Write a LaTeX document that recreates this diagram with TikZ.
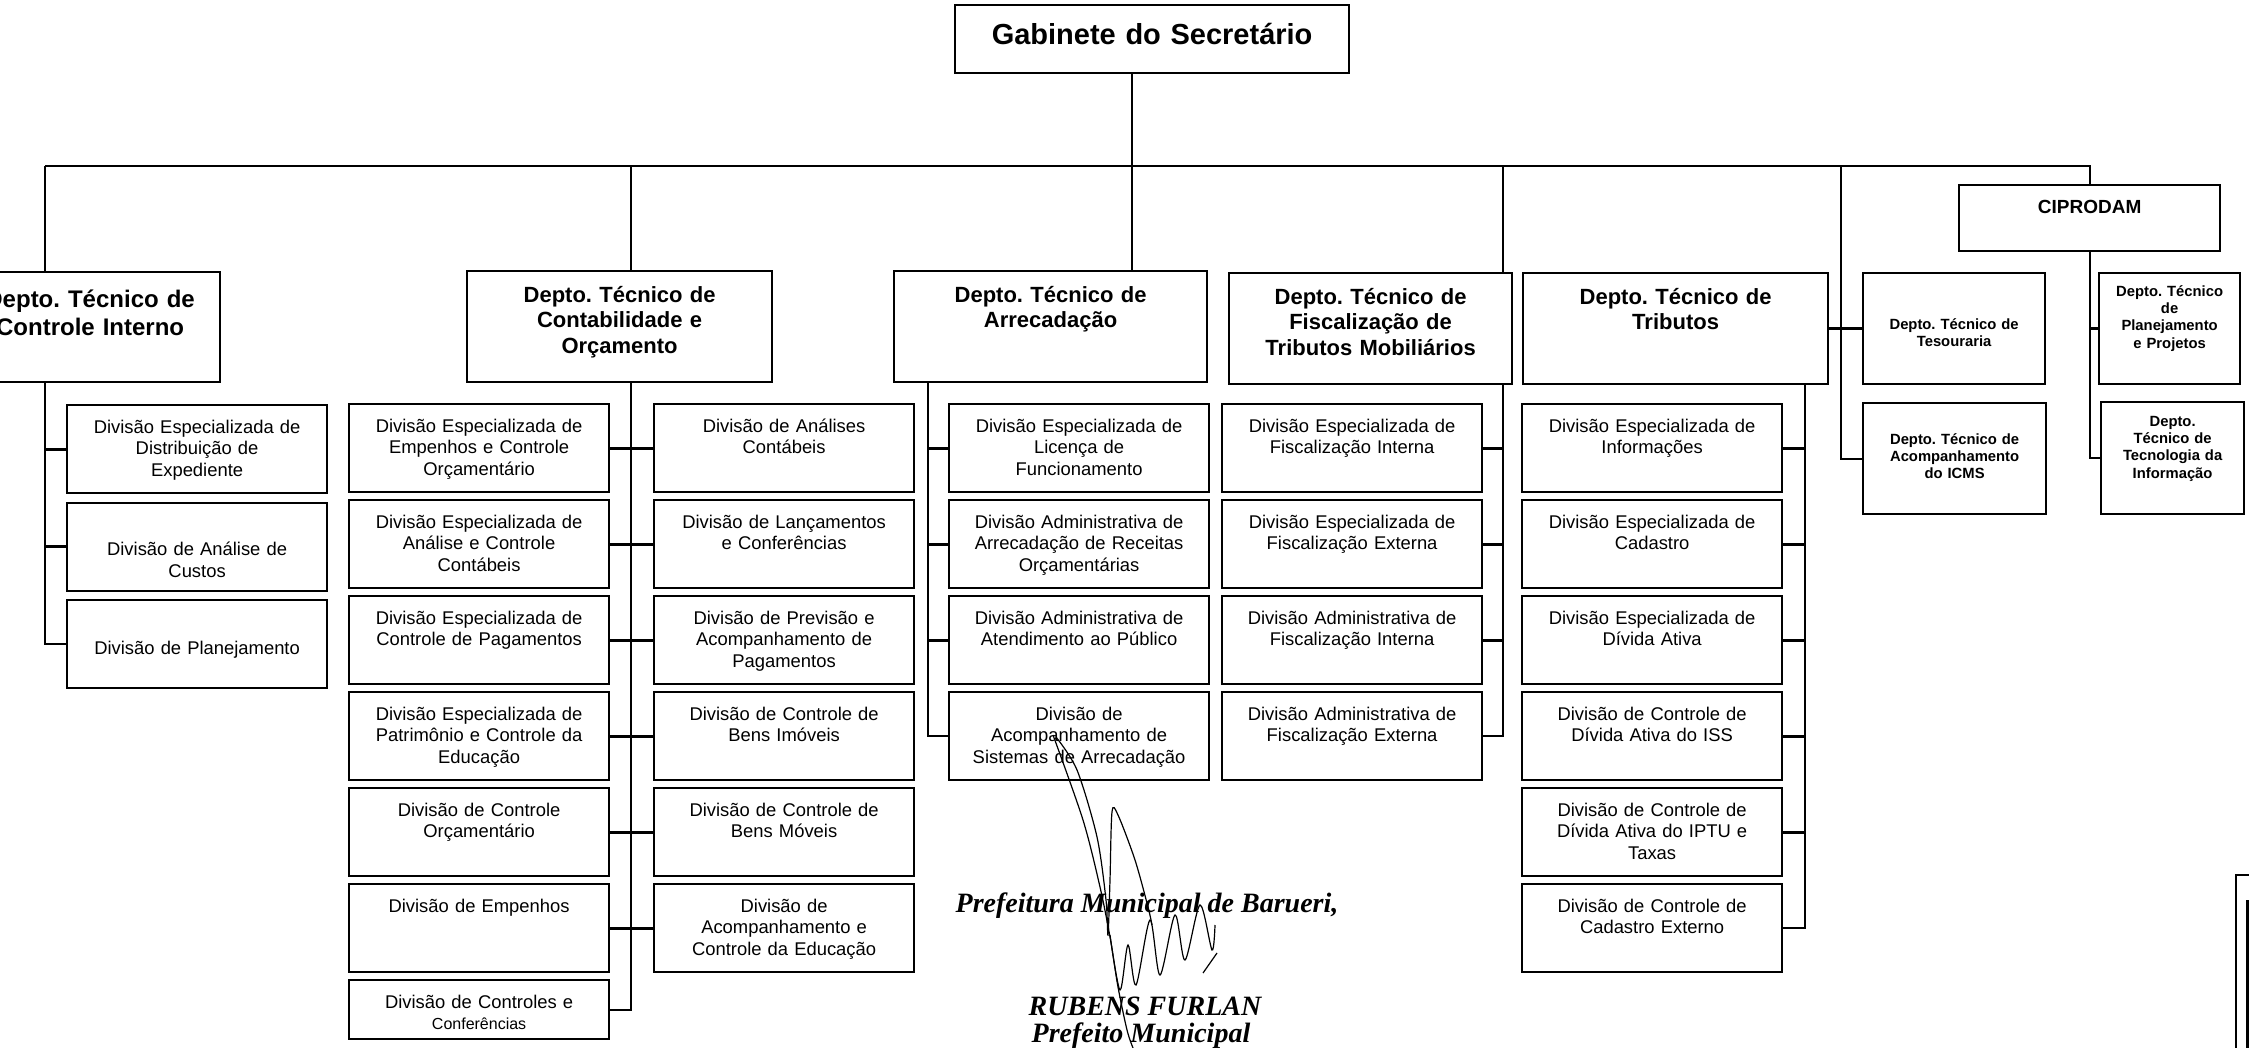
\documentclass[tikz,border=0pt]{standalone}
\usepackage{fontspec}
\setsansfont{Liberation Sans}
\newfontfamily\signfont{Liberation Serif}
\usetikzlibrary{positioning}
\frenchspacing

\begin{document}
\begin{tikzpicture}[
   x=0.5pt,y=-0.5pt,
   font=\sffamily,
   every node/.style={inner sep=0pt},
   box/.style={draw,line width=1.1pt,align=center},
   dept/.style={box,font=\sffamily\bfseries\fontsize{11}{12.8}\selectfont,text width=#1,text height=15.5pt,text depth=40pt},
   subdept/.style={box,font=\sffamily\bfseries\fontsize{7.4}{8.7}\selectfont,text width=#1},
   division/.style={box,font=\sffamily\fontsize{9.2}{10.85}\selectfont,text width=130pt,text height=14pt,text depth=30pt},
   link/.style={line width=1pt},
   stub/.style={line width=1.4pt},
   sigtext/.style={font=\signfont\bfseries\itshape\fontsize{14}{16}\selectfont,anchor=base},
   scribble/.style={line width=0.6pt}]
\useasboundingbox (0,0) rectangle (2249,1048);

\node[box,font=\sffamily\bfseries\fontsize{14.5}{17}\selectfont,text width=197pt,text height=19.7pt,text depth=14.3pt,anchor=north west] (gab) at (954,4) {Gabinete do Secretário};

\node[dept=130pt,font=\sffamily\bfseries\fontsize{12}{14}\selectfont,text height=17.5pt,text depth=37.5pt,anchor=north west] (ci) at (-41,271) {Depto. Técnico de\\Controle Interno};
\node[dept=152.5pt,anchor=north west] (contab) at (466,270) {Depto. Técnico de\\Contabilidade e\\Orçamento};
\node[dept=156.5pt,anchor=north west] (arrec) at (893,270) {Depto. Técnico de\\Arrecadação};
\node[dept=141.5pt,anchor=north west] (fisc) at (1228,272) {Depto. Técnico de\\Fiscalização de\\Tributos Mobiliários};
\node[dept=152.5pt,anchor=north west] (trib) at (1522,272) {Depto. Técnico de\\Tributos};
\node[box,font=\sffamily\bfseries\fontsize{9.5}{11}\selectfont,text width=130.5pt,text height=14pt,text depth=19pt,anchor=north west] (cipro) at (1958,184) {CIPRODAM};

\node[subdept=91pt,text height=28pt,text depth=27.5pt,anchor=north west] (tes) at (1862,272) {Depto. Técnico de\\Tesouraria};
\node[subdept=70.5pt,text height=11.5pt,text depth=44pt,anchor=north west] (plan) at (2098,272) {Depto. Técnico\\de\\Planejamento\\e Projetos};
\node[subdept=91.5pt,text height=20.5pt,text depth=35pt,anchor=north west] (icms) at (1862,402) {Depto. Técnico de\\Acompanhamento\\do ICMS};
\node[subdept=71.5pt,text height=12pt,text depth=44pt,anchor=north west] (tec) at (2100,401) {Depto.\\Técnico de\\Tecnologia da\\Informação};

\node[division,anchor=north west] (ci1) at (66,404) {Divisão Especializada de\\Distribuição de\\Expediente};
\node[division,text height=26.5pt,text depth=17.5pt,below=3.7pt of ci1] (ci2) {Divisão de Análise de\\Custos};
\node[division,text height=27pt,text depth=17pt,below=3.7pt of ci2] (ci3) {Divisão de Planejamento};

\node[division,anchor=north west] (cl1) at (348,403) {Divisão Especializada de\\Empenhos e Controle\\Orçamentário};
\node[division,below=2.9pt of cl1] (cl2) {Divisão Especializada de\\Análise e Controle\\Contábeis};
\node[division,below=2.9pt of cl2] (cl3) {Divisão Especializada de\\Controle de Pagamentos};
\node[division,below=2.9pt of cl3] (cl4) {Divisão Especializada de\\Patrimônio e Controle da\\Educação};
\node[division,below=2.9pt of cl4] (cl5) {Divisão de Controle\\Orçamentário};
\node[division,below=2.9pt of cl5] (cl6) {Divisão de Empenhos};
\node[division,text depth=15.5pt,below=2.9pt of cl6] (cl7) {Divisão de Controles e\\{\fontsize{8}{10.85}\selectfont Conferências}};

\node[division,anchor=north west] (cr1) at (653,403) {Divisão de Análises\\Contábeis};
\node[division,below=2.9pt of cr1] (cr2) {Divisão de Lançamentos\\e Conferências};
\node[division,below=2.9pt of cr2] (cr3) {Divisão de Previsão e\\Acompanhamento de\\Pagamentos};
\node[division,below=2.9pt of cr3] (cr4) {Divisão de Controle de\\Bens Imóveis};
\node[division,below=2.9pt of cr4] (cr5) {Divisão de Controle de\\Bens Móveis};
\node[division,below=2.9pt of cr5] (cr6) {Divisão de\\Acompanhamento e\\Controle da Educação};

\node[division,anchor=north west] (ca1) at (948,403) {Divisão Especializada de\\Licença de\\Funcionamento};
\node[division,below=2.9pt of ca1] (ca2) {Divisão Administrativa de\\Arrecadação de Receitas\\Orçamentárias};
\node[division,below=2.9pt of ca2] (ca3) {Divisão Administrativa de\\Atendimento ao Público};
\node[division,below=2.9pt of ca3] (ca4) {Divisão de\\Acompanhamento de\\Sistemas de Arrecadação};

\node[division,anchor=north west] (cf1) at (1221,403) {Divisão Especializada de\\Fiscalização Interna};
\node[division,below=2.9pt of cf1] (cf2) {Divisão Especializada de\\Fiscalização Externa};
\node[division,below=2.9pt of cf2] (cf3) {Divisão Administrativa de\\Fiscalização Interna};
\node[division,below=2.9pt of cf3] (cf4) {Divisão Administrativa de\\Fiscalização Externa};

\node[division,anchor=north west] (ct1) at (1521,403) {Divisão Especializada de\\Informações};
\node[division,below=2.9pt of ct1] (ct2) {Divisão Especializada de\\Cadastro};
\node[division,below=2.9pt of ct2] (ct3) {Divisão Especializada de\\Dívida Ativa};
\node[division,below=2.9pt of ct3] (ct4) {Divisão de Controle de\\Dívida Ativa do ISS};
\node[division,below=2.9pt of ct4] (ct5) {Divisão de Controle de\\Dívida Ativa do IPTU e\\Taxas};
\node[division,below=2.9pt of ct5] (ct6) {Divisão de Controle de\\Cadastro Externo};

\node[sigtext] (prefeitura) at (1147,912) {Prefeitura Municipal de Barueri,};
\node[sigtext] (furlan) at (1145,1015) {RUBENS FURLAN};
\node[sigtext] (prefeito) at (1141,1042) {Prefeito Municipal};

\coordinate (bus1) at (45,166);
\coordinate (bus2) at (631,166);
\coordinate (trunk) at (1132,166);
\coordinate (bus4) at (1503,166);
\coordinate (bus5) at (1841,166);
\coordinate (arrstem) at (928,0);
\coordinate (tribstem) at (1805,0);

\draw[link] (bus1) -- (bus1 -| cipro.north) -- (cipro.north);
\draw[link] (trunk |- gab.south) -- (trunk |- arrec.north);
\draw[link] (bus1) -- (bus1 |- ci.north);
\draw[link] (bus2) -- (bus2 |- contab.north);
\draw[link] (bus4) -- (bus4 |- fisc.north);
\draw[link] (bus5) |- (icms.west);

\draw[link] (bus1 |- ci.south) |- (ci3.west);
\draw[stub] (ci1.west) -- (ci1.west -| bus1);
\draw[stub] (ci2.west) -- (ci2.west -| bus1);

\draw[link] (bus2 |- contab.south) |- (cl7.east);
\draw[stub] (cl1.east) -- (cr1.west);
\draw[stub] (cl2.east) -- (cr2.west);
\draw[stub] (cl3.east) -- (cr3.west);
\draw[stub] (cl4.east) -- (cr4.west);
\draw[stub] (cl5.east) -- (cr5.west);
\draw[stub] (cl6.east) -- (cr6.west);

\draw[link] (arrstem |- arrec.south) |- (ca4.west);
\draw[stub] (ca1.west) -- (ca1.west -| arrstem);
\draw[stub] (ca2.west) -- (ca2.west -| arrstem);
\draw[stub] (ca3.west) -- (ca3.west -| arrstem);

\draw[link] (bus4 |- fisc.south) |- (cf4.east);
\draw[stub] (cf1.east) -- (cf1.east -| bus4);
\draw[stub] (cf2.east) -- (cf2.east -| bus4);
\draw[stub] (cf3.east) -- (cf3.east -| bus4);

\draw[link] (tribstem |- trib.south) |- (ct6.east);
\draw[stub] (ct1.east) -- (ct1.east -| tribstem);
\draw[stub] (ct2.east) -- (ct2.east -| tribstem);
\draw[stub] (ct3.east) -- (ct3.east -| tribstem);
\draw[stub] (ct4.east) -- (ct4.east -| tribstem);
\draw[stub] (ct5.east) -- (ct5.east -| tribstem);
\draw[stub] (trib.east) -- (tes.west);

\draw[link] (cipro.south) |- (tec.west);
\draw[stub] (plan.west) -- (plan.west -| cipro.south);

\draw[scribble] plot[smooth] coordinates {(1053,735) (1083,820) (1100,887) (1110,937) (1118,987) (1127,1030) (1133,1048)};
\draw[scribble] plot[smooth] coordinates {(1056,737) (1077,770) (1097,837) (1106,900) (1108,935) (1110,880) (1112,812) (1118,815) (1135,860) (1148,907) (1152,925)};
\draw[scribble] plot[smooth] coordinates {(1110,935) (1120,990) (1128,945) (1136,985) (1150,920) (1160,975) (1175,915) (1185,960) (1200,905) (1212,950) (1215,925)};
\draw[scribble] (1217,953) -- (1203,973);

\draw[line width=0.8pt] (2249,875) -- (2236,875) -- (2236,1048);
\draw[line width=1.5pt] (2247,900) -- (2247,1048);
\end{tikzpicture}
\end{document}
